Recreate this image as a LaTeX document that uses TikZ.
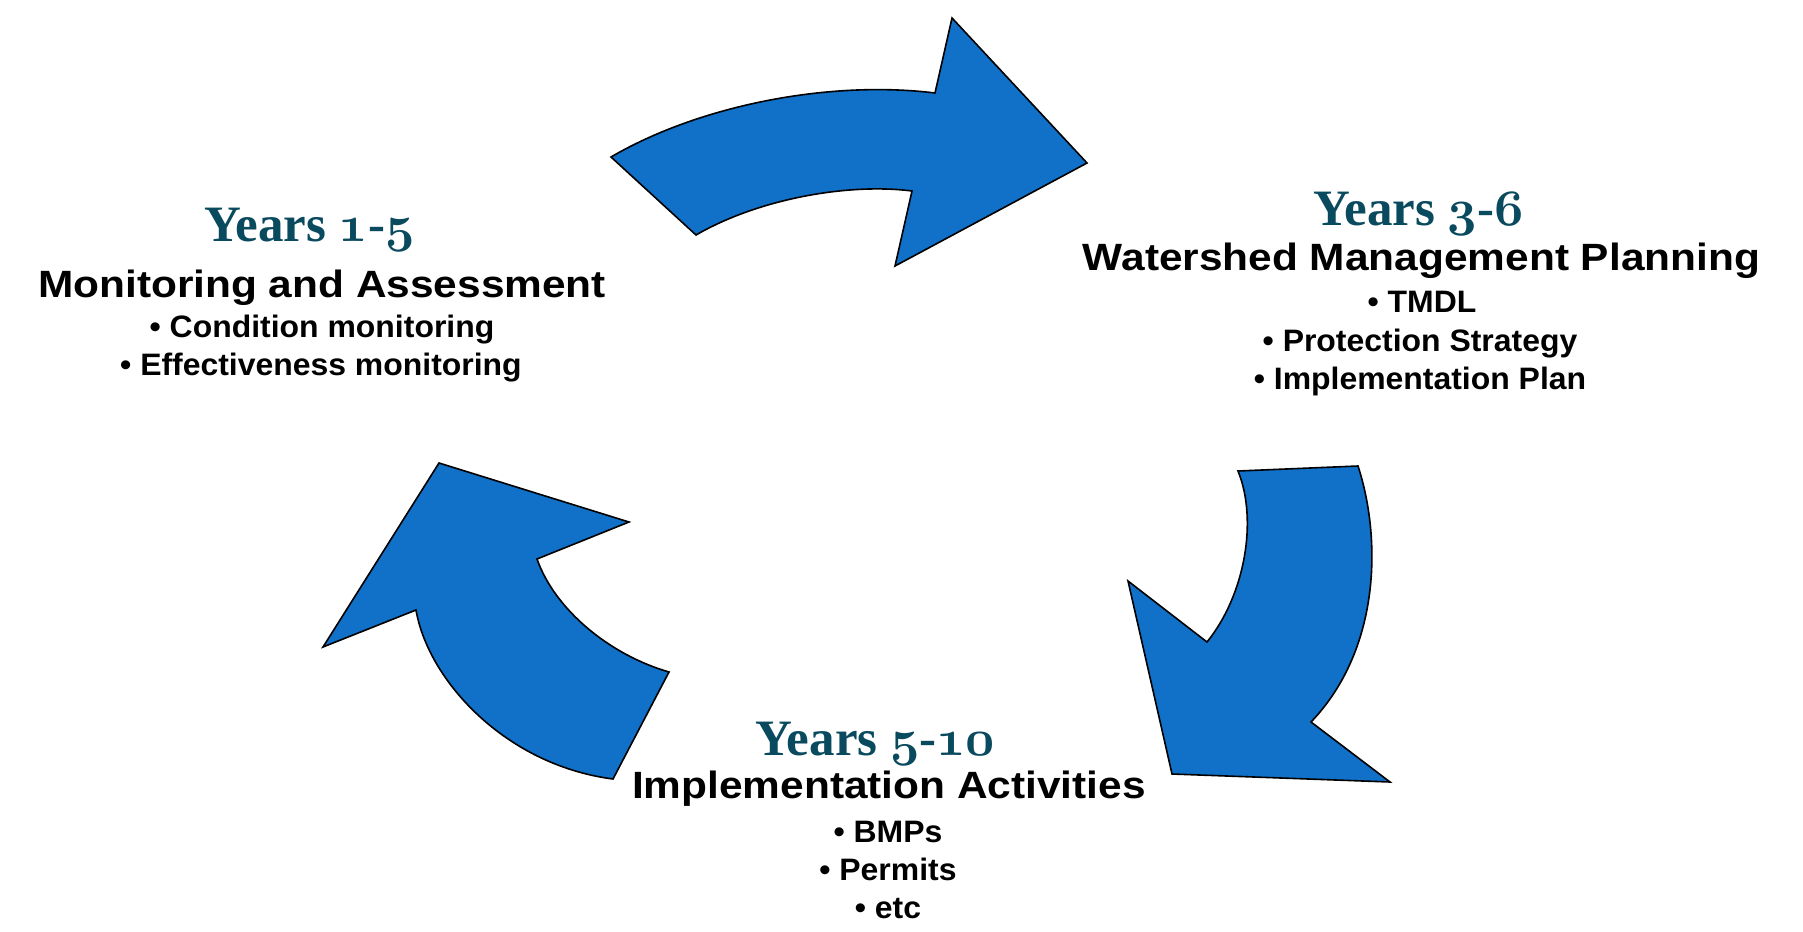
\documentclass[tikz,border=0pt]{standalone}
\usepackage[no-math]{fontspec}
\DeclareFontShape{OML}{cmm}{b}{it}{<-> cmmib10}{}
\newfontfamily\headfont[FakeStretch=1.116]{Liberation Sans}
\newfontfamily\bulfont[FakeStretch=1.03]{Liberation Sans}
\newfontfamily\yearfont{Liberation Serif}
\definecolor{arrowblue}{RGB}{17,112,199}
\definecolor{yearteal}{RGB}{10,74,94}
\newcommand\osdig[1]{\mbox{\boldmath$\mathnormal{#1}$}}
\tikzset{
  blockarrow/.style={fill=arrowblue, draw=black, line width=1.6pt, line join=miter},
  yearlbl/.style={anchor=base, inner sep=0pt, text=yearteal, font=\yearfont\bfseries\fontsize{51}{55}\selectfont},
  headlbl/.style={anchor=base, inner sep=0pt, font=\headfont\bfseries\fontsize{38}{42}\selectfont},
  bullbl/.style={anchor=base, inner sep=0pt, font=\bulfont\bfseries\fontsize{31}{35}\selectfont},
}
\begin{document}
\begin{tikzpicture}[x=1pt, y=-1pt]
\useasboundingbox[fill=white] (0,0) rectangle (1803,931);

% top arrow (left -> right)
\draw[blockarrow] (611,157) .. controls (700,105) and (830,80) .. (935,93)
  -- (952,18) -- (1087,163) -- (895,266) -- (912,191)
  .. controls (850,183) and (760,198) .. (696,235) -- cycle;

% right arrow (top -> bottom)
\draw[blockarrow] (1238,471) -- (1358,466)
  .. controls (1382,540) and (1380,650) .. (1311,722)
  -- (1390,782) -- (1172,774) -- (1128,581) -- (1207,642)
  .. controls (1245,595) and (1258,520) .. cycle;

% left arrow (bottom -> top)
\draw[blockarrow] (613,779) -- (669,672)
  .. controls (610,655) and (555,610) .. (537,559)
  -- (629,522) -- (439,463) -- (323,647) -- (416,610)
  .. controls (428,680) and (505,765) .. cycle;

% left block
\node[yearlbl] (y1) at (309.5,241) {Years \osdig{1}-\osdig{5}};
\node[headlbl] (h1) at (322,297) {Monitoring and Assessment};
\node[bullbl] (b1a) at (322,337) {• Condition monitoring};
\node[bullbl] (b1b) at (321,375) {• Effectiveness monitoring};

% right block
\node[yearlbl] (y2) at (1418.5,225) {Years \osdig{3}-\osdig{6}};
\node[headlbl] (h2) at (1421.5,270) {Watershed Management Planning};
\node[bullbl] (b2a) at (1422,312) {• TMDL};
\node[bullbl] (b2b) at (1420,351) {• Protection Strategy};
\node[bullbl] (b2c) at (1420,389) {• Implementation Plan};

% bottom block
\node[yearlbl] (y3) at (875.5,755) {Years \osdig{5}-\osdig{10}};
\node[headlbl] (h3) at (889,798) {Implementation Activities};
\node[bullbl] (b3a) at (888,842) {• BMPs};
\node[bullbl] (b3b) at (888,880) {• Permits};
\node[bullbl] (b3c) at (888,918) {• etc};
\end{tikzpicture}
\end{document}
